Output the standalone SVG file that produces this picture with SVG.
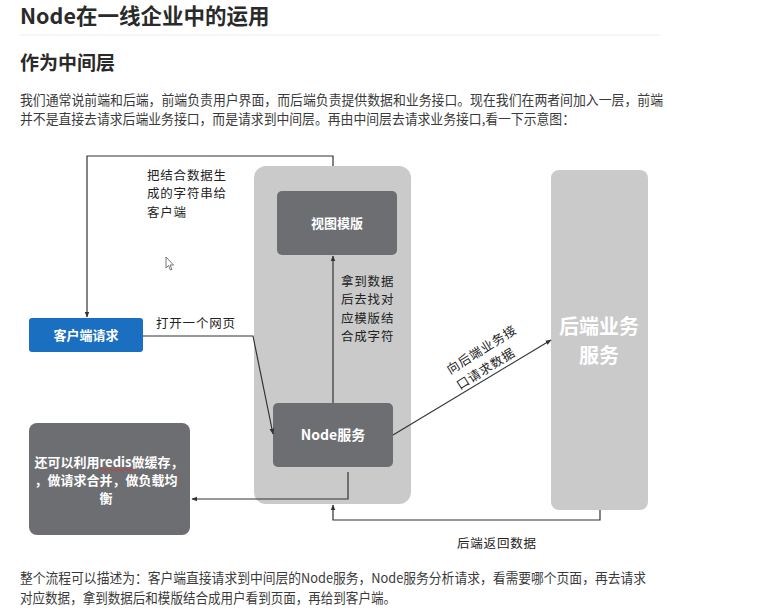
<svg xmlns="http://www.w3.org/2000/svg" width="776" height="612" viewBox="0 0 776 612">
<style>
.t{font-family:"Noto Sans CJK SC","Noto Sans",sans-serif;fill:#333}
.h{font-weight:bold;fill:#2a2a2a}
.p{font-size:13.4px;fill:#3a3a3a}
.lb{font-family:"Noto Sans CJK SC","Noto Sans",sans-serif;font-size:12.5px;letter-spacing:0.8px;fill:#222}
.bx{font-family:"Noto Sans CJK SC","Noto Sans",sans-serif;font-weight:bold;fill:#fff;text-anchor:middle}
.dark{fill:#6d6e71}
.lite{fill:#cacaca}
.c{fill:none;stroke:#333;stroke-width:1.2}
</style>
<defs>
<marker id="ah" viewBox="0 0 10 10" refX="9" refY="5" markerWidth="5" markerHeight="5" orient="auto">
<path d="M0,1 L10,5 L0,9 z" fill="#333"/>
</marker>
</defs>
<rect width="776" height="612" fill="#fff"/>
<text class="t h" x="20" y="24" font-size="21.5">Node在一线企业中的运用</text>
<line x1="20" y1="35" x2="660" y2="35" stroke="#eee" stroke-width="1"/>
<text class="t h" x="20" y="70" font-size="19">作为中间层</text>
<text class="t p" x="20" y="105" textLength="643" lengthAdjust="spacingAndGlyphs">我们通常说前端和后端，前端负责用户界面，而后端负责提供数据和业务接口。现在我们在两者间加入一层，前端</text>
<text class="t p" x="20" y="124" textLength="555" lengthAdjust="spacingAndGlyphs">并不是直接去请求后端业务接口，而是请求到中间层。再由中间层去请求业务接口,看一下示意图：</text>

<g id="middle-layer"><rect class="lite" x="254" y="166" width="157" height="338" rx="12"/></g>
<g id="view-template"><rect class="dark" x="277" y="191" width="120" height="64" rx="5"/><text class="bx" x="337" y="228" font-size="13">视图模版</text></g>
<g id="node-service"><rect class="dark" x="273" y="403" width="120" height="64" rx="5"/><text class="bx" x="333" y="440" font-size="14">Node服务</text></g>
<g id="client-request"><rect x="29" y="318" width="114" height="34" rx="3" fill="#1a6fc0"/><text class="bx" x="86" y="340" font-size="13">客户端请求</text></g>
<g id="backend-service"><rect class="lite" x="551" y="170" width="97" height="340" rx="8"/><text class="bx" font-size="20"><tspan x="599" y="334">后端业务</tspan><tspan x="599" y="363">服务</tspan></text></g>
<g id="redis-note"><rect class="dark" x="29" y="423" width="161" height="112" rx="8"/>
<text class="bx" font-size="13"><tspan x="109" y="467">还可以利用redis做缓存，</tspan><tspan x="106" y="485">，做请求合并，做负载均</tspan><tspan x="106" y="503">衡</tspan></text>
<path d="M99,470 q2,-2 4,0 t4,0 t4,0 t4,0 t4,0 t4,0 t4,0 t4,0 t4,0" fill="none" stroke="#d33" stroke-width="0.9"/>
</g>

<g id="connectors">
<path class="c" d="M333,166 V156 H87 V317" marker-end="url(#ah)"/>
<path class="c" d="M143,336 H253 L273,434" marker-end="url(#ah)"/>
<path class="c" d="M333,403 V256" marker-end="url(#ah)"/>
<path class="c" d="M393,435 L551,340" marker-end="url(#ah)"/>
<path class="c" d="M600,510 V520 H333 V505" marker-end="url(#ah)"/>
<path class="c" d="M348,472 V499 H192" marker-end="url(#ah)"/>
</g>

<g id="labels">
<text class="lb"><tspan x="147" y="180">把结合数据生</tspan><tspan x="147" y="198.3">成的字符串给</tspan><tspan x="147" y="216.6">客户端</tspan></text>
<text class="lb"><tspan x="341" y="286">拿到数据</tspan><tspan x="341" y="304.3">后去找对</tspan><tspan x="341" y="322.6">应模版结</tspan><tspan x="341" y="340.9">合成字符</tspan></text>
<text class="lb" x="156" y="328">打开一个网页</text>
<text class="lb" x="457" y="548">后端返回数据</text>
<g transform="translate(482,350) rotate(-32)">
<text class="lb"><tspan x="-40" y="4">向后端业务接</tspan><tspan x="-40" y="22.3">口请求数据</tspan></text>
</g>
</g>

<path d="M166,257 V268 L168.5,265.5 L170.5,270 L172,269.3 L170,265 L173.5,265 Z" fill="#fff" stroke="#555" stroke-width="0.8"/>

<text class="t p" x="20" y="583" textLength="626" lengthAdjust="spacingAndGlyphs">整个流程可以描述为：客户端直接请求到中间层的Node服务，Node服务分析请求，看需要哪个页面，再去请求</text>
<text class="t p" x="20" y="603" textLength="376" lengthAdjust="spacingAndGlyphs">对应数据，拿到数据后和模版结合成用户看到页面，再给到客户端。</text>
</svg>
